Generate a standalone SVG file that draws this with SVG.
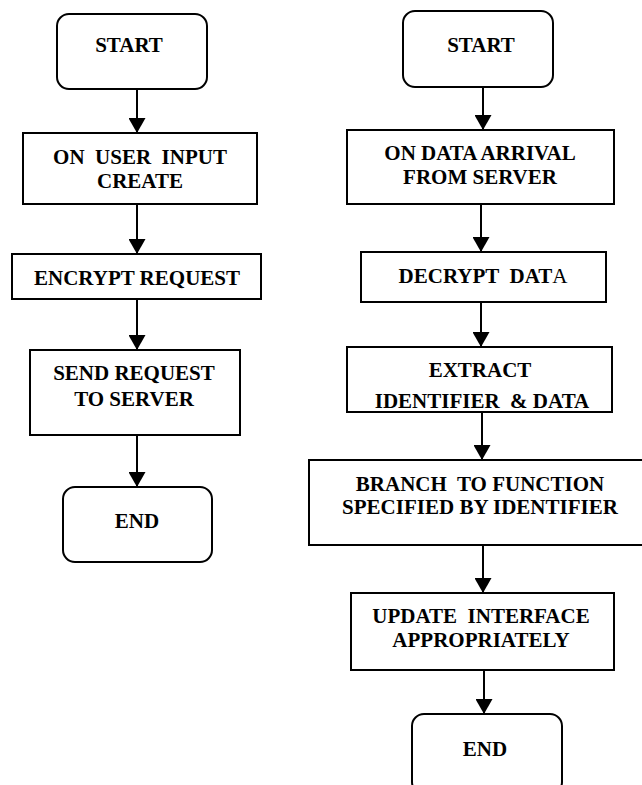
<svg xmlns="http://www.w3.org/2000/svg" width="642" height="785" viewBox="0 0 642 785">
<defs>
<style>
.box{fill:#fff;stroke:#000;stroke-width:2}
.t{font-family:'Liberation Serif','Times New Roman',serif;font-weight:bold;font-size:21px;fill:#000;text-anchor:middle;white-space:pre}
.c{stroke:#000;stroke-width:2;fill:none}
</style>
<marker id="ah" markerWidth="7.5" markerHeight="8.5" refX="7.5" refY="4.25" orient="auto" markerUnits="strokeWidth">
<path d="M0,0 L7.5,4.25 L0,8.5 Z" fill="#000"/>
</marker>
</defs>
<rect width="642" height="785" fill="#fff"/>
<g id="connectors">
<line class="c" x1="137" y1="89" x2="137" y2="133" marker-end="url(#ah)"/>
<line class="c" x1="137" y1="204" x2="137" y2="254" marker-end="url(#ah)"/>
<line class="c" x1="137" y1="299" x2="137" y2="350" marker-end="url(#ah)"/>
<line class="c" x1="137" y1="435" x2="137" y2="487" marker-end="url(#ah)"/>
<line class="c" x1="483" y1="87" x2="483" y2="130" marker-end="url(#ah)"/>
<line class="c" x1="481" y1="204" x2="481" y2="252" marker-end="url(#ah)"/>
<line class="c" x1="481" y1="302" x2="481" y2="347" marker-end="url(#ah)"/>
<line class="c" x1="482" y1="412" x2="482" y2="460" marker-end="url(#ah)"/>
<line class="c" x1="483" y1="545" x2="483" y2="593" marker-end="url(#ah)"/>
<line class="c" x1="484" y1="670" x2="484" y2="714" marker-end="url(#ah)"/>
</g>
<g id="l-start">
<rect class="box" x="57" y="14" width="150" height="75" rx="12"/>
<text class="t" x="129" y="52">START</text>
</g>
<g id="l-input">
<rect class="box" x="23" y="133" width="234" height="71"/>
<text class="t" x="140" y="164">ON  USER  INPUT</text>
<text class="t" x="140" y="188">CREATE</text>
</g>
<g id="l-encrypt">
<rect class="box" x="12" y="254" width="249" height="45"/>
<text class="t" x="137" y="285">ENCRYPT REQUEST</text>
</g>
<g id="l-send">
<rect class="box" x="30" y="350" width="210" height="85"/>
<text class="t" x="134" y="380">SEND REQUEST</text>
<text class="t" x="134" y="406">TO SERVER</text>
</g>
<g id="l-end">
<rect class="box" x="63" y="487" width="149" height="75" rx="12"/>
<text class="t" x="137" y="528">END</text>
</g>
<g id="r-start">
<rect class="box" x="403" y="11" width="150" height="76" rx="12"/>
<text class="t" x="481" y="52">START</text>
</g>
<g id="r-arrival">
<rect class="box" x="347" y="130" width="267" height="74"/>
<text class="t" x="480" y="160">ON DATA ARRIVAL</text>
<text class="t" x="480" y="184">FROM SERVER</text>
</g>
<g id="r-decrypt">
<rect class="box" x="361" y="252" width="245" height="50"/>
<text class="t" x="483" y="283">DECRYPT  DAT<tspan font-weight="normal">A</tspan></text>
</g>
<g id="r-extract">
<rect class="box" x="347" y="347" width="265" height="65"/>
<text class="t" x="480" y="377">EXTRACT</text>
<text class="t" x="482" y="408">IDENTIFIER  &amp; DATA</text>
</g>
<g id="r-branch">
<rect class="box" x="309" y="460" width="342" height="85"/>
<text class="t" x="480" y="491">BRANCH  TO FUNCTION</text>
<text class="t" x="480" y="514">SPECIFIED BY IDENTIFIER</text>
</g>
<g id="r-update">
<rect class="box" x="351" y="593" width="263" height="77"/>
<text class="t" x="481" y="623">UPDATE  INTERFACE</text>
<text class="t" x="481" y="647">APPROPRIATELY</text>
</g>
<g id="r-end">
<rect class="box" x="412" y="714" width="150" height="80" rx="12"/>
<text class="t" x="485" y="756">END</text>
</g>
</svg>
